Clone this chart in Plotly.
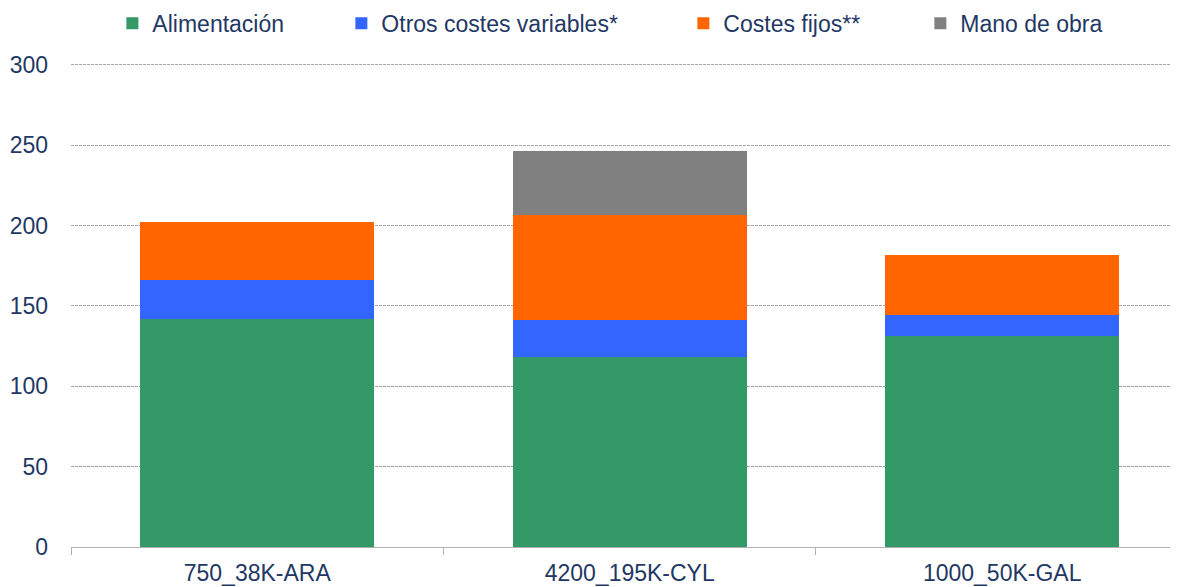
import plotly.graph_objects as go

# Data
farms = ["750_38K-ARA", "4200_195K-CYL", "1000_50K-GAL"]
alimentacion = [141.8, 118.5, 131.4]
otros_variables = [24.2, 22.8, 13.2]
costes_fijos = [36.2, 65.4, 37.0]
mano_obra = [None, 39.7, None]

series = [
    ("Alimentación", alimentacion, "#339966", 134),
    ("Otros costes variables*", otros_variables, "#3366FF", 247),
    ("Costes fijos**", costes_fijos, "#FF6600", 142),
    ("Mano de obra", mano_obra, "#808080", 146),
]

text_color = "#1F3864"
font_family = "Liberation Sans, Arial, sans-serif"

fig = go.Figure()
for name, values, color, lw in series:
    fig.add_trace(go.Bar(
        name=name,
        x=farms,
        y=values,
        marker=dict(color=color, line=dict(width=0)),
        legendwidth=lw + 50,
    ))

# the page body adds an 8px offset, so margins are shifted to compensate
fig.update_layout(
    width=1178,
    height=587,
    barmode="stack",
    bargap=0.372,
    plot_bgcolor="white",
    paper_bgcolor="white",
    font=dict(family=font_family, size=23, color=text_color),
    margin=dict(l=63, r=0, t=55, b=48, autoexpand=False),
    legend=dict(
        orientation="h",
        x=0.0371,
        xanchor="left",
        y=1.0375,
        yanchor="bottom",
        traceorder="normal",
        font=dict(size=23, color=text_color),
        itemclick=False,
        bgcolor="rgba(0,0,0,0)",
    ),
    xaxis=dict(
        range=[-0.5, 2.4935],
        showline=True,
        linecolor="#B0B0B0",
        linewidth=1,
        ticks="outside",
        tickson="boundaries",
        ticklen=7,
        tickcolor="#B0B0B0",
        showgrid=False,
        automargin=False,
        ticklabelstandoff=5,
        tickfont=dict(size=23, color=text_color),
    ),
    yaxis=dict(
        range=[0, 301.2],
        tickvals=[0, 50, 100, 150, 200, 250, 300],
        showline=False,
        zeroline=False,
        showgrid=True,
        gridcolor="#A6A6A6",
        gridwidth=1,
        griddash="3px,1px",
        automargin=False,
        ticklabelstandoff=22,
        tickfont=dict(size=23, color=text_color),
    ),
)

fig.write_html("out.html")
